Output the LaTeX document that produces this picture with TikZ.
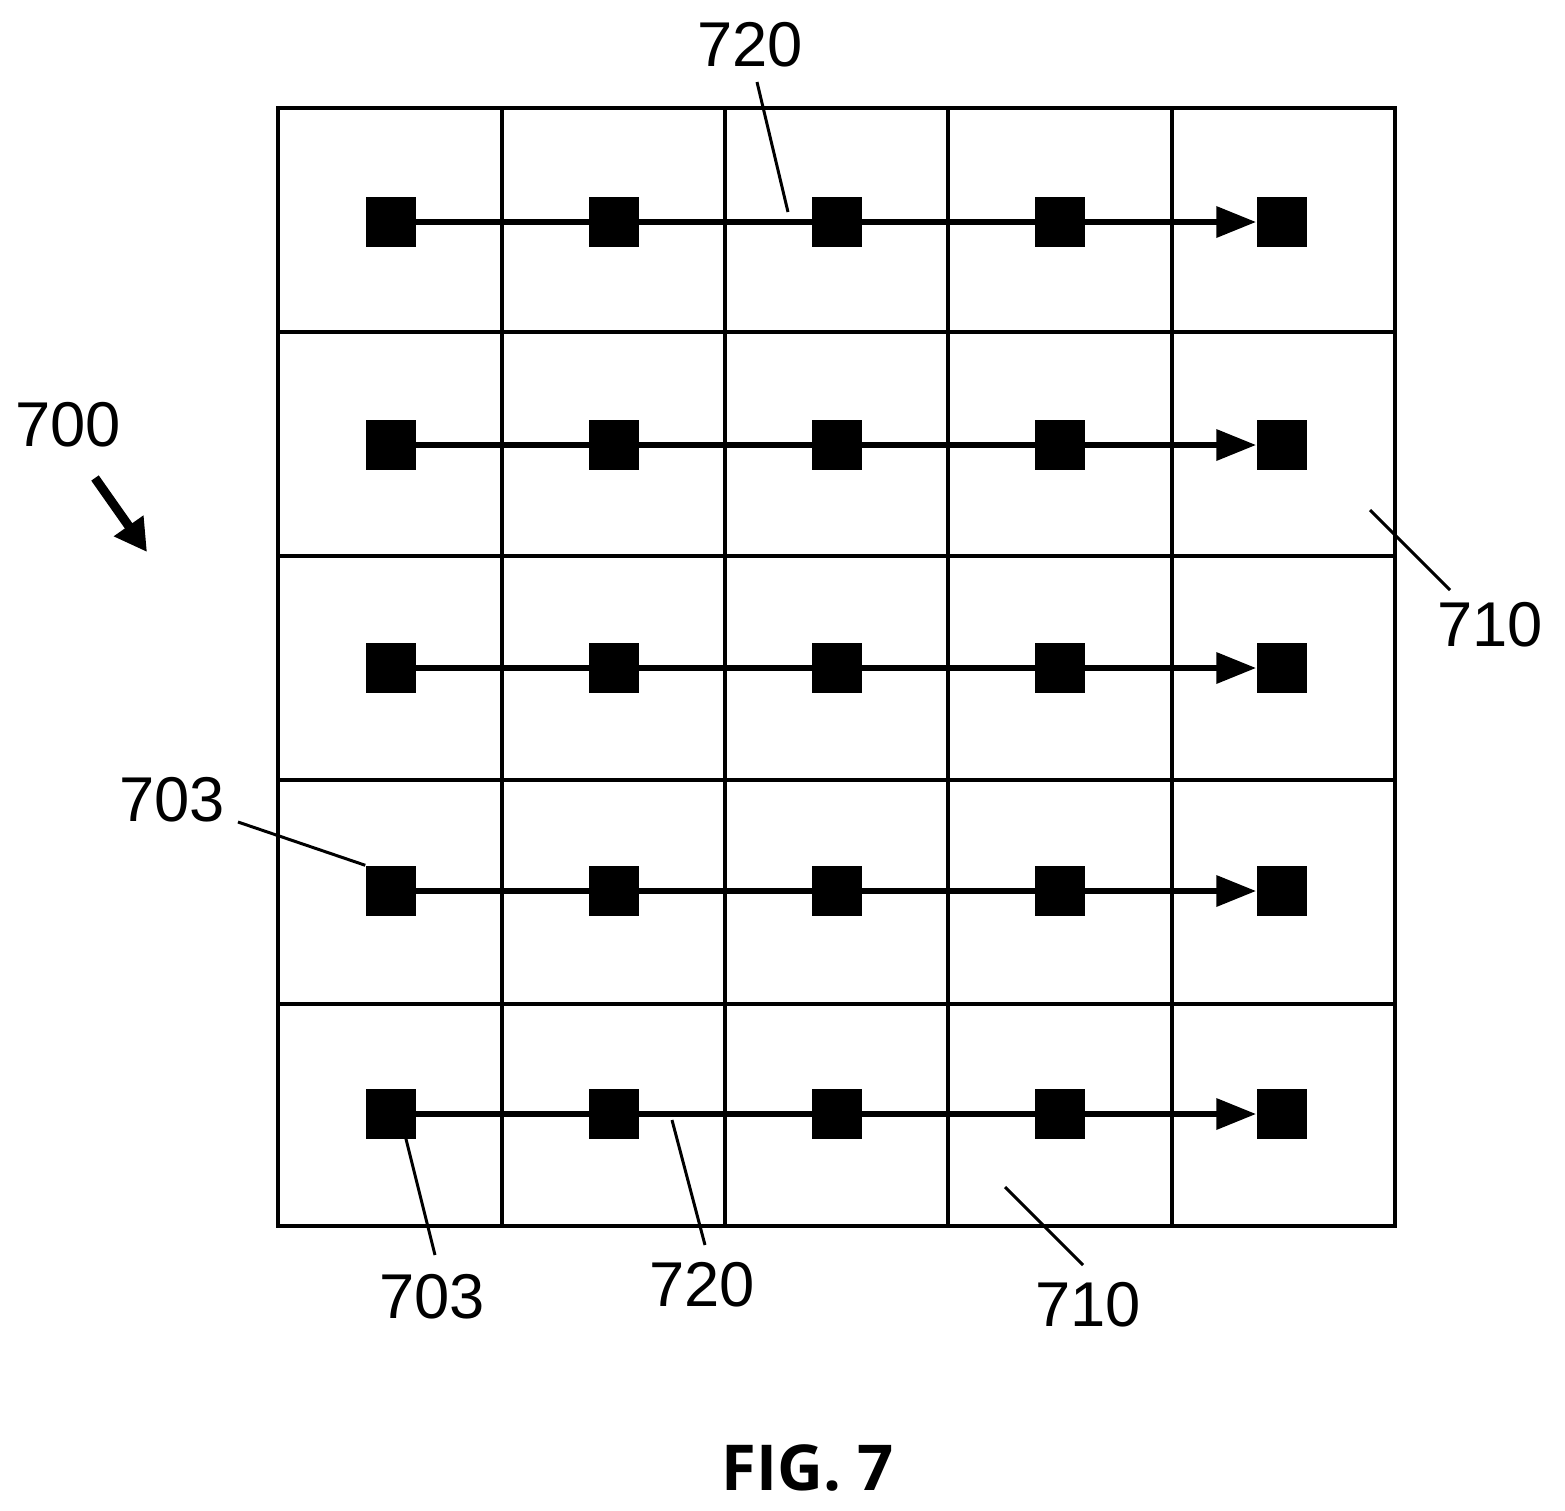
\documentclass[tikz,border=0pt]{standalone}
\usepackage{fontspec}
\setmainfont{Liberation Sans}
\newfontfamily\figfont{Open Sans}
\usetikzlibrary{arrows.meta}
\begin{document}
\begin{tikzpicture}[x=0.01cm,y=-0.01cm,
  sq/.style={fill=black,minimum size=0.5cm,inner sep=0pt},
  lbl/.style={font=\fontsize{18}{20}\selectfont},
  lead/.style={line width=0.85pt},
  flow/.style={line width=1.9pt,-{Triangle[length=0.4cm,width=0.3cm]}}]
\useasboundingbox (0,0) rectangle (1565,1511);
\draw[line width=0.9pt] (278,108) rectangle (1395,1226);
\foreach \x in {502,725,948,1172} \draw[line width=0.9pt] (\x,108) -- (\x,1226);
\foreach \y in {332,556,780,1004} \draw[line width=0.9pt] (278,\y) -- (1395,\y);
\foreach \r/\y in {1/222,2/445,3/668,4/891,5/1114}{
  \foreach \c/\x in {1/391,2/614,3/837,4/1060,5/1282}
    \node[sq] (s\r\c) at (\x,\y) {};
  \draw[flow] (s\r1.center) -- (s\r5.west);
}
\node[lbl] (t720a) at (750,45) {720};
\draw[lead] (757,82) -- (788,212);
\node[lbl] (t700) at (68,425) {700};
\draw[line width=2.6pt,-{Triangle[length=0.32cm,width=0.34cm]}] (95,478) -- (147,552);
\node[lbl] (t710a) at (1490,625) {710};
\draw[lead] (1370,510) -- (1450,590);
\node[lbl] (t703a) at (172,800) {703};
\draw[lead] (238,822) -- (s41.north west);
\node[lbl] (t703b) at (432,1297) {703};
\draw[lead] (405,1135) -- (435,1255);
\node[lbl] (t720b) at (702,1285) {720};
\draw[lead] (672,1120) -- (705,1245);
\node[lbl] (t710b) at (1088,1305) {710};
\draw[lead] (1005,1187) -- (1083,1265);
\node[font=\fontsize{18}{22}\selectfont\figfont\bfseries] (fig) at (808,1468) {FIG. 7};
\end{tikzpicture}
\end{document}
